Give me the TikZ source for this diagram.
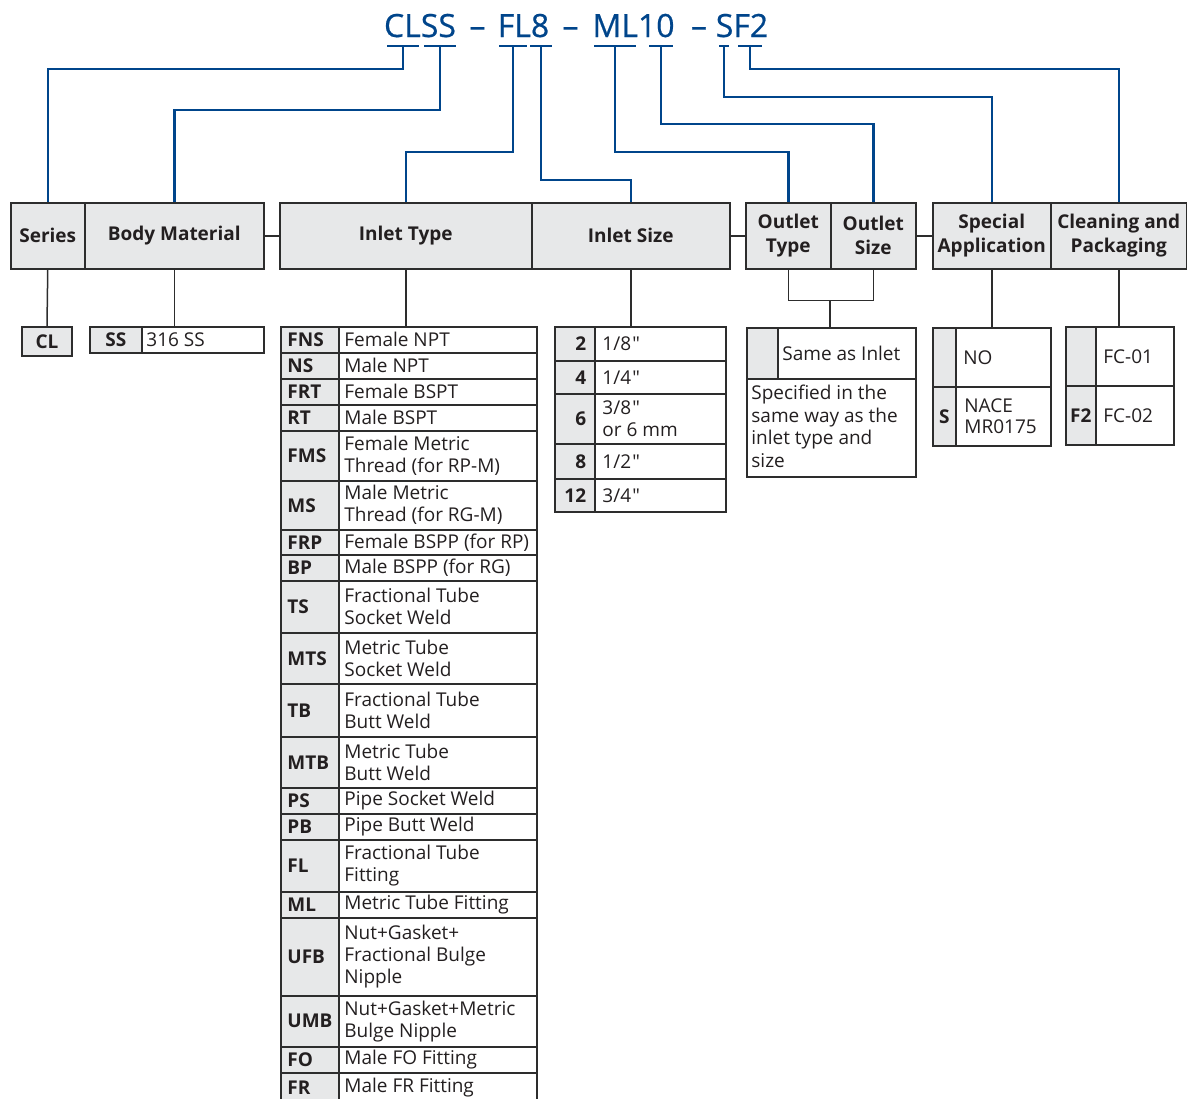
\documentclass[tikz,border=0pt]{standalone}
\usepackage{fontspec}
\setmainfont{Open Sans}
\newfontfamily\ttlfont[FakeBold=0.6]{Open Sans}
\usetikzlibrary{positioning}
\definecolor{pnblue}{RGB}{0,69,139}
\definecolor{cellgray}{RGB}{231,232,233}
\definecolor{rulegray}{RGB}{45,45,45}
\definecolor{ink}{RGB}{35,31,32}
\newcommand{\inch}{\kern.6pt\textquotedbl}

\begin{document}
\begin{tikzpicture}
	[x=0.5pt, y=-0.5pt,
	 hdr/.style={draw=rulegray, fill=cellgray, line width=.75pt, inner sep=0pt,
	   minimum height=33pt, anchor=north west, align=center, text=ink,
	   font=\fontsize{9.5}{12}\selectfont\bfseries},
	 cell/.style={draw=rulegray, line width=.75pt, inner sep=0pt, anchor=north west},
	 codecell/.style={cell, fill=cellgray, text=ink, font=\fontsize{9.5}{11}\selectfont\bfseries},
	 txt/.style={inner sep=0pt, align=left, text=ink, font=\fontsize{9.5}{11}\selectfont},
	 code/.style={txt, font=\fontsize{9.5}{11}\selectfont\bfseries},
	 link/.style={draw=pnblue, line width=1.25pt},
	 rule/.style={draw=rulegray, line width=.75pt},
	 ttl/.style={anchor=base, inner sep=0pt, text=pnblue, font=\fontsize{16}{18}\ttlfont}]
   \useasboundingbox (0,0) rectangle (1187,1098);

   % part number
   \node[ttl] (t-clss) at (420,37) {CLSS};
   \node[ttl] (t-d1) at (477.5,37) {–};
   \node[ttl] (t-fl8) at (523.5,37) {FL8};
   \node[ttl] (t-d2) at (570.5,37) {–};
   \node[ttl] (t-ml10) at (633.5,37) {ML10};
   \node[ttl] (t-d3) at (699,37) {–};
   \node[ttl] (t-sf2) at (742,37) {SF2};
   \foreach \n/\x/\w in {cl/403/16, ss/440/16, fl/513/14, 8/541/11, ml/615/21, 10/661/12, s/724/5, f2/750/12} {
     \coordinate (b-\n) at (\x,46);
     \draw[link] (\x-\w,46) -- (\x+\w,46);
   }

   % headers
   \node[hdr, minimum width=37pt] (series) at (10,202) {Series};
   \node[hdr, minimum width=89.5pt] (body) at (84,202) {Body Material};
   \node[hdr, minimum width=126pt] (intype) at (279,202) {Inlet Type};
   \node[hdr, minimum width=99pt] (insize) at (531,202) {Inlet Size};
   \node[hdr, minimum width=42.5pt] (outtype) at (745,202) {Outlet\\Type};
   \node[hdr, minimum width=42.5pt] (outsize) at (830,202) {Outlet\\Size};
   \node[hdr, minimum width=59pt] (special) at (932,202) {Special\\Application};
   \node[hdr, minimum width=68pt] (clean) at (1050,202) {Cleaning and\\Packaging};
   \draw[rule] (body.east) -- (intype.west);
   \draw[rule] (insize.east) -- (outtype.west);
   \draw[rule] (outsize.east) -- (special.west);

   % code to header
   \draw[link] (b-cl) -- ++(0,23) -| (series.north);
   \draw[link] (b-ss) -- ++(0,64) -| (body.north);
   \draw[link] (b-fl) -- ++(0,106) -| (intype.north);
   \draw[link] (b-8) -- ++(0,134) -| (insize.north);
   \draw[link] (b-ml) -- ++(0,106) -| (outtype.north);
   \draw[link] (b-10) -- ++(0,78) -| (outsize.north);
   \draw[link] (b-s) -- ++(0,51) -| (special.north);
   \draw[link] (b-f2) -- ++(0,23) -| (clean.north);

   % series and body
   \node[codecell, minimum width=25pt, minimum height=14.5pt, anchor=north] (cl) at (47,326) {CL};
   \draw[rule] (series.south) -- (cl.north);
   \node[codecell, minimum width=26pt, minimum height=13pt] (ss) at (89,326) {SS};
   \node[cell, minimum width=61pt, minimum height=13pt] (ss-t) at (141,326) {};
   \node[txt, right=2.5pt of ss-t.west] (ss-l) {316 SS};
   \draw[rule] (body.south) -- (body.south |- ss-t.north);

   % inlet type
   \foreach \ya/\yb/\cd/\tx in {326/352/FNS/Female NPT, 352/378/NS/Male NPT,
       378/404/FRT/Female BSPT, 404/430/RT/Male BSPT,
       430/480/FMS/{Female Metric\\Thread (for RP-M)}, 480/529/MS/{Male Metric\\Thread (for RG-M)},
       529/554/FRP/Female BSPP (for RP), 554/580/BP/Male BSPP (for RG),
       580/632/TS/{Fractional Tube\\Socket Weld}, 632/683/MTS/{Metric Tube\\Socket Weld},
       683/736/TB/{Fractional Tube\\Butt Weld}, 736/787/MTB/{Metric Tube\\Butt Weld},
       787/813/PS/Pipe Socket Weld, 813/839/PB/Pipe Butt Weld,
       839/891/FL/{Fractional Tube\\Fitting}, 891/917/ML/Metric Tube Fitting,
       917/995/UFB/{Nut+Gasket+\\Fractional Bulge\\Nipple}, 995/1046/UMB/{Nut+Gasket+Metric\\Bulge Nipple},
       1046/1072/FO/Male FO Fitting, 1072/1102/FR/Male FR Fitting} {
     \pgfmathsetmacro\hh{(\yb-\ya)/2}
     \node[codecell, minimum width=29pt, minimum height=\hh pt] (in-\cd) at (280,\ya) {};
     \node[cell, minimum width=99pt, minimum height=\hh pt] (inT-\cd) at (338,\ya) {};
     \node[code, right=3.5pt of in-\cd.west] (inC-\cd) {\cd};
     \node[txt, right=3pt of inT-\cd.west] (inL-\cd) {\tx};
   }
   \draw[rule] (intype.south) -- (intype.south |- inT-FNS.north);

   % inlet size
   \foreach \ya/\yb/\cd/\tx in {326/360/2/1\slash8\inch, 360/393/4/1\slash4\inch,
       393/443/6/{3\slash8\inch\\or 6 mm}, 443/478/8/1\slash2\inch, 478/511/12/3\slash4\inch} {
     \pgfmathsetmacro\hh{(\yb-\ya)/2}
     \node[codecell, minimum width=20pt, minimum height=\hh pt] (sz-\cd) at (554,\ya) {};
     \node[cell, minimum width=65.5pt, minimum height=\hh pt] (szT-\cd) at (594,\ya) {};
     \node[code, left=4.5pt of sz-\cd.east] (szC-\cd) {\cd};
     \node[txt, right=4pt of szT-\cd.west] (szL-\cd) {\tx};
   }
   \draw[rule] (insize.south) -- (insize.south |- szT-2.north);

   % outlet
   \node[codecell, minimum width=15.5pt, minimum height=25.5pt] (ot) at (746,327) {};
   \node[cell, minimum width=69pt, minimum height=25.5pt] (ot-t) at (777,327) {};
   \node[txt, right=2.5pt of ot-t.west] (ot-l) {Same as Inlet};
   \node[cell, minimum width=84.5pt, minimum height=49pt] (ot-note) at (746,378) {};
   \node[txt, font=\fontsize{9.5}{11.2}\selectfont, anchor=north west] (ot-nl)
     at ([xshift=2.5pt, yshift=-3.5pt]ot-note.north west) {Specified in the\\same way as the\\inlet type and\\size};
   \draw[rule] (outtype.south) -- ++(0,31) -| (outsize.south);
   \draw[rule] (outsize.south west) ++(0,31) -- (outsize.west |- ot-t.north);

   % special application
   \node[codecell, minimum width=11.5pt, minimum height=29.5pt] (sp) at (932,327) {};
   \node[cell, minimum width=47.5pt, minimum height=29.5pt] (sp-no) at (955,327) {};
   \node[txt, right=4pt of sp-no.west] (sp-nol) {NO};
   \node[codecell, minimum width=11.5pt, minimum height=29.5pt] (sp-s) at (932,386) {S};
   \node[cell, minimum width=47.5pt, minimum height=29.5pt] (sp-nace) at (955,386) {};
   \node[txt, font=\fontsize{9.5}{10.5}\selectfont, right=4.5pt of sp-nace.west] (sp-nacel) {NACE\\MR0175};
   \draw[rule] (special.south) -- (special.south |- sp-no.north);

   % cleaning and packaging
   \node[codecell, minimum width=15pt, minimum height=29.5pt] (cp) at (1065,326) {};
   \node[cell, minimum width=39pt, minimum height=29.5pt] (cp-01) at (1095,326) {};
   \node[txt, right=4pt of cp-01.west] (cp-01l) {FC-01};
   \node[codecell, minimum width=15pt, minimum height=29.5pt] (cp-f2) at (1065,385) {F2};
   \node[cell, minimum width=39pt, minimum height=29.5pt] (cp-02) at (1095,385) {};
   \node[txt, right=4pt of cp-02.west] (cp-02l) {FC-02};
   \draw[rule] (clean.south) -- (clean.south |- cp-01.north);
\end{tikzpicture}
\end{document}
